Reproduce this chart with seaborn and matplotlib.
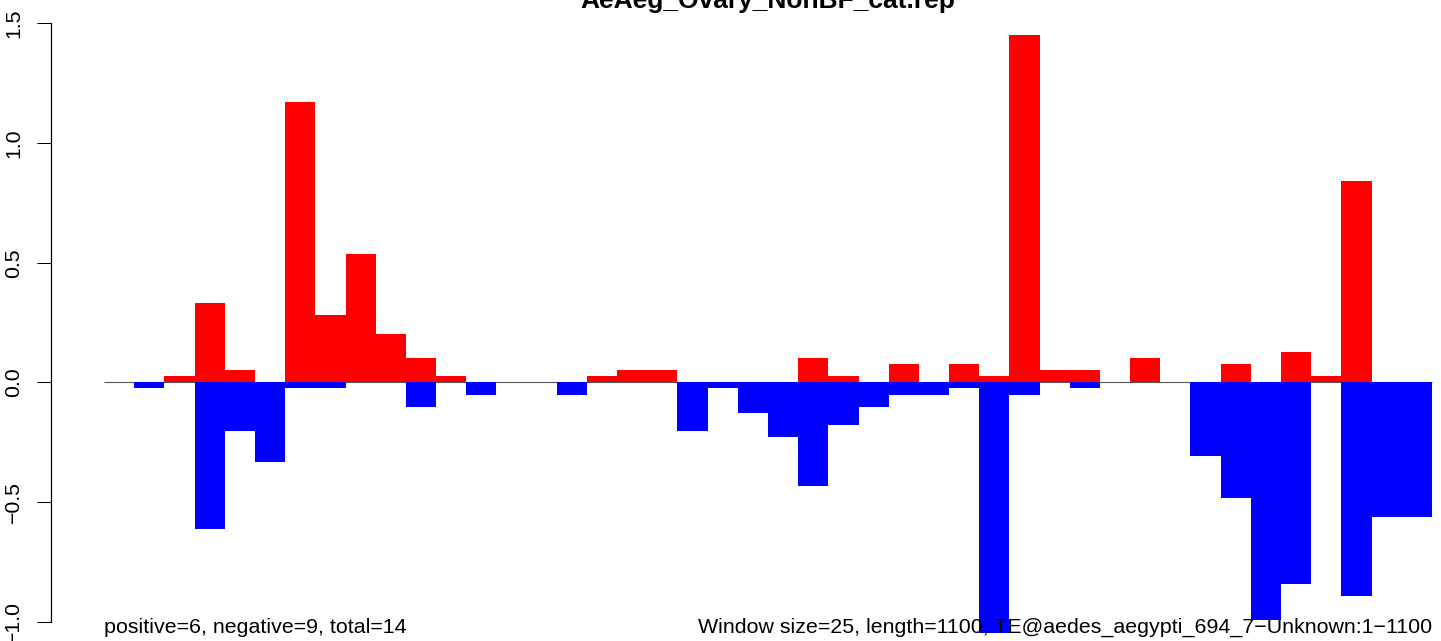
import numpy as np
import pandas as pd
import matplotlib
matplotlib.use('Agg')
import matplotlib.pyplot as plt
import seaborn as sns

# Chart text
title = "AeAeg_Ovary_NonBF_cat.rep"
left_note = "positive=6, negative=9, total=14"
right_note = "Window size=25, length=1100, TE@aedes_aegypti_694_7\u2212Unknown:1\u22121100"

# One bar per 25 bp window (1100 / 25 = 44 windows)
windows = list(range(44))
pos_values = [
    0.0, 0.0, 0.0255, 0.331, 0.051, 0.0, 1.173, 0.28, 0.535, 0.204, 0.102,
    0.0255, 0.0, 0.0, 0.0, 0.0, 0.0255, 0.051, 0.051, 0.0, 0.0, 0.0,
    0.0, 0.102, 0.0255, 0.0, 0.0765, 0.0, 0.0765, 0.0255, 1.453, 0.051, 0.051,
    0.0, 0.102, 0.0, 0.0, 0.0765, 0.0, 0.1275, 0.0255, 0.841, 0.0, 0.0,
]
neg_values = [
    0.0, -0.0255, 0.0, -0.612, -0.204, -0.331, -0.0255, -0.0255, 0.0, 0.0, -0.102,
    0.0, -0.051, 0.0, 0.0, -0.051, 0.0, 0.0, 0.0, -0.204, -0.0255, -0.1275,
    -0.2295, -0.433, -0.178, -0.102, -0.051, -0.051, -0.0255, -1.046, -0.051, 0.0, -0.0255,
    0.0, 0.0, 0.0, -0.306, -0.484, -0.994, -0.841, 0.0, -0.892, -0.561, -0.561,
]

y_ticks = [-1.0, -0.5, 0.0, 0.5, 1.0, 1.5]
y_tick_labels = ["\u22121.0", "\u22120.5", "0.0", "0.5", "1.0", "1.5"]

df = pd.DataFrame({'window': windows, 'pos': pos_values, 'neg': neg_values})

sns.set_style('white')
plt.rcParams['font.family'] = ['Liberation Sans', 'DejaVu Sans']

W, H = 1441, 641
fig = plt.figure(figsize=(W / 100, H / 100), dpi=100)
# plot region is wider than the image (the original was cropped on the right)
ax = fig.add_axes([51 / W, 0, (1485 - 51) / W, 1])

# zero line under the bars
ax.hlines(0, -0.5, len(windows) - 0.5, color='#555555', linewidth=0.8, zorder=0)

sns.barplot(data=df, x='window', y='pos', color='#FF0000', saturation=1,
            width=1, errorbar=None, linewidth=0, ax=ax)
sns.barplot(data=df, x='window', y='neg', color='#0000FF', saturation=1,
            width=1, errorbar=None, linewidth=0, ax=ax)

# R style limits: 4% padding on x, crop-aligned y
ax.set_xlim(-0.5 - 1.76, len(windows) - 0.5 + 1.76)
ax.set_ylim(-1.081, 1.598)
ax.set_xlabel('')
ax.set_ylabel('')
ax.set_xticks([])

ax.set_yticks(y_ticks)
ax.set_yticklabels(y_tick_labels, rotation=90, va='center', ha='right')
ax.tick_params(axis='y', left=True, length=10, width=0.75, pad=10,
               labelsize=15.3, labelcolor='black', color='black', direction='out')

for side in ['top', 'right', 'bottom']:
    ax.spines[side].set_visible(False)
ax.spines['left'].set_color('black')
ax.spines['left'].set_linewidth(0.9)
ax.spines['left'].set_bounds(y_ticks[0], y_ticks[-1])

# notes along the bottom
ymin = min(neg_values)
ax.text(-0.5, ymin, left_note, ha='left', va='baseline', fontsize=15.4, color='black')
ax.text(len(windows) - 0.5, ymin, right_note, ha='right', va='baseline',
        fontsize=15.4, color='black')

fig.text(768 / W, 1 - 8 / H, title, ha='center', va='baseline',
         fontsize=19, fontweight='bold', color='black')

fig.savefig('out.png', dpi=100)
